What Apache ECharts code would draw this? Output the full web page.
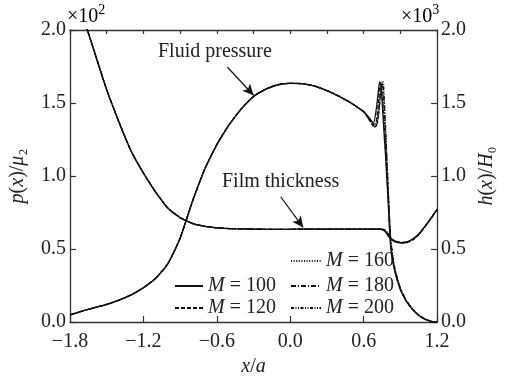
<!DOCTYPE html>
<html>
<head>
<meta charset="utf-8">
<script src="https://cdn.jsdelivr.net/npm/echarts@6/dist/echarts.min.js"></script>
<style>html,body{margin:0;padding:0;background:#fff}#c{width:505px;height:385px}</style>
</head>
<body>
<div id="c"></div>
<script>
// ---- data ----
const seriesNames = ['M=100', 'M=120', 'M=160', 'M=180', 'M=200'];
const xTicks = [-1.8, -1.2, -0.6, 0.0, 0.6, 1.2];
const yTicks = [0.0, 0.5, 1.0, 1.5, 2.0];

// common part (curves coincide)
const xHead = [-1.8,-1.7,-1.6,-1.5,-1.4,-1.3,-1.2,-1.1,-1.0,-0.9,-0.8,-0.7,-0.6,-0.5,-0.4,-0.3,-0.2,-0.1,0.0,0.1,0.2,0.3,0.4,0.5,0.6];
const pHead = [0.048,0.075,0.098,0.12,0.15,0.186,0.235,0.30,0.40,0.575,0.825,1.045,1.215,1.35,1.46,1.545,1.595,1.625,1.635,1.632,1.615,1.585,1.545,1.498,1.44];
const hHead = [2.38,2.11,1.85,1.59,1.37,1.17,1.02,0.89,0.78,0.715,0.675,0.655,0.645,0.64,0.638,0.636,0.635,0.635,0.635,0.636,0.636,0.636,0.636,0.636,0.636];

// tail part (curves differ with M)
const xTail = [0.65,0.68,0.70,0.72,0.73,0.74,0.75,0.76,0.77,0.78,0.80,0.82,0.85,0.90,0.95,1.00,1.05,1.10,1.15,1.20];
const pTail100 = [1.395,1.362,1.44,1.58,1.645,1.62,1.52,1.38,1.25,1.12,0.82,0.52,0.36,0.22,0.14,0.085,0.045,0.02,0.005,0.0];
const pTail120 = [1.388,1.352,1.36,1.50,1.60,1.64,1.58,1.45,1.31,1.17,0.85,0.54,0.37,0.225,0.142,0.086,0.046,0.02,0.005,0.0];
const pTail160 = [1.383,1.346,1.345,1.44,1.53,1.62,1.645,1.55,1.40,1.24,0.89,0.56,0.375,0.228,0.144,0.087,0.046,0.021,0.005,0.0];
const pTail180 = [1.38,1.343,1.34,1.42,1.50,1.59,1.64,1.60,1.45,1.28,0.91,0.57,0.38,0.23,0.145,0.088,0.047,0.021,0.005,0.0];
const pTail200 = [1.378,1.34,1.335,1.40,1.48,1.57,1.63,1.645,1.50,1.32,0.93,0.58,0.385,0.232,0.146,0.089,0.047,0.021,0.005,0.0];
const hTail100 = [0.636,0.636,0.636,0.636,0.635,0.634,0.632,0.628,0.622,0.614,0.59,0.568,0.552,0.544,0.548,0.568,0.603,0.655,0.712,0.772];
const hTail120 = [0.636,0.636,0.636,0.636,0.636,0.635,0.634,0.631,0.626,0.618,0.595,0.572,0.553,0.54,0.542,0.562,0.597,0.65,0.708,0.77];
const hTail160 = [0.636,0.637,0.637,0.637,0.637,0.636,0.635,0.633,0.629,0.622,0.60,0.575,0.556,0.542,0.543,0.563,0.598,0.651,0.709,0.77];
const hTail180 = [0.636,0.637,0.637,0.638,0.638,0.637,0.636,0.634,0.631,0.625,0.603,0.578,0.558,0.544,0.545,0.565,0.60,0.653,0.71,0.771];
const hTail200 = [0.636,0.637,0.638,0.638,0.638,0.638,0.637,0.635,0.632,0.627,0.606,0.58,0.56,0.546,0.547,0.566,0.601,0.654,0.711,0.772];

const pTails = [pTail100, pTail120, pTail160, pTail180, pTail200];
const hTails = [hTail100, hTail120, hTail160, hTail180, hTail200];

// ---- styling ----
const FONT = 'Liberation Serif';
const lineTypes = ['solid', [4, 2], [1, 1.6], [5, 2, 1, 2], [3, 1.5, 1, 1.5, 1, 1.5]];

function build(head, tail) {
  return xHead.map((x, i) => [x, head[i]]).concat(xTail.map((x, i) => [x, tail[i]]));
}
const fmt = v => (v < 0 ? '\u2212' : '') + Math.abs(v).toFixed(1);

const series = [];
seriesNames.forEach((name, k) => {
  const ls = { color: '#111', width: 1.3, type: lineTypes[k] };
  series.push({ name, type: 'line', data: build(pHead, pTails[k]), showSymbol: false, symbol: 'none', smooth: 0.2, lineStyle: ls, color: '#111', z: 5 - k, clip: true });
  series.push({ name, type: 'line', data: build(hHead, hTails[k]), showSymbol: false, symbol: 'none', smooth: 0.2, lineStyle: ls, color: '#111', z: 5 - k, clip: true });
});

// annotation arrows in data coordinates
series.push({
  type: 'line', data: [], silent: true,
  markLine: {
    silent: true, animation: false,
    symbol: ['none', 'arrow'], symbolSize: [8, 11],
    lineStyle: { color: '#111', width: 1.2, type: 'solid' },
    label: { show: false },
    data: [
      [{ coord: [-0.513, 1.745] }, { coord: [-0.30, 1.553] }],
      [{ coord: [-0.079, 0.858] }, { coord: [0.105, 0.648] }]
    ]
  }
});

const legendText = {
  fontFamily: FONT, fontSize: 20, color: '#222',
  rich: { i: { fontStyle: 'italic', fontFamily: FONT, fontSize: 20, color: '#222' }, n: { fontFamily: FONT, fontSize: 20, color: '#222' } }
};
const legendFmt = n => '{i|M} {n|= ' + n.split('=')[1] + '}';
const legendBase = {
  orient: 'vertical', itemWidth: 30, itemHeight: 14, itemGap: 2, padding: 0,
  textStyle: legendText, formatter: legendFmt,
  itemStyle: { color: 'rgba(0,0,0,0)', borderWidth: 0, opacity: 0 }
};

const axisLine = { show: true, onZero: false, lineStyle: { color: '#333', width: 1.3 } };
const labelStyle = { fontFamily: FONT, fontSize: 20, color: '#222' };
const nameStyle = { fontFamily: FONT, fontSize: 20, color: '#222', rich: { i: { fontStyle: 'italic', fontFamily: FONT, fontSize: 20, color: '#222' } } };
const expRich = { a: { fontFamily: FONT, fontSize: 20, color: '#222', lineHeight: 24, verticalAlign: 'bottom' }, s: { fontFamily: FONT, fontSize: 14, color: '#222', lineHeight: 24, verticalAlign: 'top' } };

const option = {
  animation: false,
  backgroundColor: '#fff',
  grid: { left: 69, right: 57, top: 30, bottom: 63, containLabel: false },
  xAxis: [
    { type: 'value', position: 'bottom', min: -1.8, max: 1.2, interval: 0.6,
      axisLine, axisTick: { show: true, inside: true, length: 6, lineStyle: { color: '#333', width: 1.2 } },
      axisLabel: Object.assign({ margin: 10, formatter: fmt }, labelStyle),
      splitLine: { show: false },
      name: '{i|x}/{i|a}', nameLocation: 'middle', nameGap: 34, nameTextStyle: nameStyle },
    { type: 'value', position: 'top', min: -1.8, max: 1.2, interval: 0.3,
      axisLine, axisTick: { show: true, inside: true, length: 4, lineStyle: { color: '#333', width: 1.2 } },
      axisLabel: { show: false }, splitLine: { show: false } }
  ],
  yAxis: [
    { type: 'value', position: 'left', min: 0, max: 2, interval: 0.5,
      axisLine, axisTick: { show: true, inside: true, length: 6, lineStyle: { color: '#333', width: 1.2 } },
      axisLabel: Object.assign({ margin: 4, formatter: fmt }, labelStyle),
      splitLine: { show: false },
      name: '{i|p}({i|x})/{i|μ}₂', nameLocation: 'middle', nameGap: 42, nameRotate: 90, nameTextStyle: nameStyle },
    { type: 'value', position: 'right', min: 0, max: 2, interval: 0.5,
      axisLine, axisTick: { show: true, inside: true, length: 6, lineStyle: { color: '#333', width: 1.2 } },
      axisLabel: Object.assign({ margin: 4, formatter: fmt }, labelStyle),
      splitLine: { show: false },
      name: '{i|h}({i|x})/{i|H}₀', nameLocation: 'middle', nameGap: 36, nameRotate: 90, nameTextStyle: nameStyle }
  ],
  legend: [
    Object.assign({}, legendBase, { data: ['M=160'], left: 290, top: 251 }),
    Object.assign({}, legendBase, { data: ['M=100', 'M=120'], left: 174, top: 276, itemWidth: 28 }),
    Object.assign({}, legendBase, { data: ['M=180', 'M=200'], left: 290, top: 276 })
  ],
  graphic: [
    { type: 'text', left: 67, top: 3, style: { text: '{a|×10}{s|2}', rich: expRich } },
    { type: 'text', left: 401, top: 3, style: { text: '{a|×10}{s|3}', rich: expRich } },
    { type: 'text', left: 158, top: 42, style: { text: 'Fluid pressure', font: '20px "Liberation Serif"', fill: '#222' } },
    { type: 'text', left: 222, top: 172, style: { text: 'Film thickness', font: '20px "Liberation Serif"', fill: '#222' } }
  ],
  series
};

const chart = echarts.init(document.getElementById('c'), null, { renderer: 'canvas' });
chart.setOption(option);
</script>
</body>
</html>
